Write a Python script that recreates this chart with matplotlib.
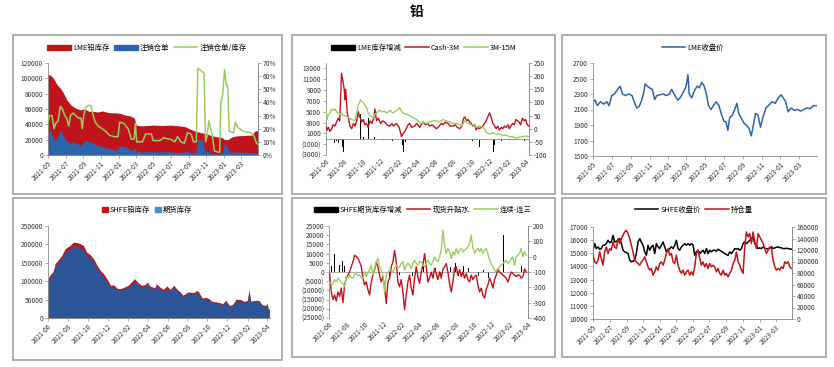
import pandas as pd
import matplotlib
matplotlib.use("Agg")
import matplotlib.pyplot as plt
import matplotlib.dates as mdates
from matplotlib.patches import Rectangle, Patch
from matplotlib.lines import Line2D

plt.rcParams['font.family'] = ['Noto Sans CJK SC', 'DejaVu Sans']
plt.rcParams['axes.unicode_minus'] = False

RED = '#c0141c'
BLUE = '#2e64ac'
DBLUE = '#2c5597'
GREEN = '#9acd5f'
GRAY = '#8c8c8c'
W, H = 834, 367

# ---------------------------------------------
# LME 铅库存 / 注销仓单 / 注销仓单占比
# ---------------------------------------------
tl_stock_dates = ['2021-05-01', '2021-05-10', '2021-05-20', '2021-06-01', '2021-06-13', '2021-06-25', '2021-07-05',
                  '2021-07-20', '2021-08-05', '2021-08-20', '2021-09-05', '2021-09-20', '2021-10-05', '2021-10-20',
                  '2021-11-05', '2021-11-20', '2021-12-05', '2021-12-20', '2022-01-05', '2022-01-25', '2022-02-10',
                  '2022-02-25', '2022-03-03', '2022-03-20', '2022-04-10', '2022-05-01', '2022-06-01', '2022-07-01',
                  '2022-08-01', '2022-08-20', '2022-09-05', '2022-09-25', '2022-10-15', '2022-11-01', '2022-11-20',
                  '2022-12-05', '2022-12-25', '2023-01-03', '2023-01-15', '2023-02-01', '2023-02-15', '2023-03-15',
                  '2023-04-10', '2023-04-18', '2023-04-30']
tl_stock = [105000, 104000, 100000, 92000, 87000, 80000, 72000, 65000, 61000, 59000, 60000, 57000, 57000, 56000,
            57500, 56000, 55000, 55000, 54500, 52000, 51000, 48000, 39000, 38000, 38500, 39000, 38500, 39000,
            38000, 37000, 34000, 31000, 29000, 28000, 25000, 24000, 23000, 20500, 20000, 24000, 25000, 25500,
            26000, 31000, 32000]
tl_cancel_dates = ['2021-05-01', '2021-05-08', '2021-05-14', '2021-05-24', '2021-06-01', '2021-06-10', '2021-06-16',
                   '2021-06-25', '2021-07-01', '2021-07-15', '2021-08-01', '2021-08-15', '2021-08-22', '2021-09-01',
                   '2021-09-12', '2021-09-25', '2021-10-08', '2021-10-25', '2021-11-10', '2021-12-01', '2021-12-25',
                   '2022-01-05', '2022-01-25', '2022-02-07', '2022-02-20', '2022-02-27', '2022-03-04', '2022-03-20',
                   '2022-04-20', '2022-05-20', '2022-06-20', '2022-07-20', '2022-08-15', '2022-08-28', '2022-09-10',
                   '2022-09-26', '2022-10-03', '2022-10-20', '2022-10-28', '2022-11-10', '2022-11-20', '2022-12-10',
                   '2022-12-28', '2023-01-03', '2023-01-10', '2023-01-20', '2023-02-15', '2023-03-15', '2023-04-15',
                   '2023-04-30']
tl_cancel = [25000, 32000, 28000, 18000, 22000, 30000, 32000, 24000, 20000, 16000, 17000, 14000, 12000, 17000,
             19000, 17000, 15000, 12000, 11000, 8000, 6000, 12000, 11000, 8000, 6000, 10000, 5000, 4000,
             4500, 4000, 4500, 3000, 4000, 5000, 3000, 4000, 20000, 19000, 4000, 5000, 2000, 1000,
             2000, 15000, 13000, 4000, 4000, 3500, 3000, 1500]
tl_ratio_dates = ['2021-05-01', '2021-05-06', '2021-05-15', '2021-05-22', '2021-05-28', '2021-06-05', '2021-06-13',
                  '2021-06-20', '2021-06-28', '2021-07-05', '2021-07-12', '2021-07-18', '2021-07-28', '2021-08-05',
                  '2021-08-15', '2021-08-24', '2021-08-28', '2021-09-02', '2021-09-08', '2021-09-18', '2021-09-28',
                  '2021-10-05', '2021-10-12', '2021-10-22', '2021-11-05', '2021-11-17', '2021-12-01', '2021-12-15',
                  '2021-12-30', '2022-01-05', '2022-01-20', '2022-02-03', '2022-02-14', '2022-02-24', '2022-02-28',
                  '2022-03-05', '2022-03-25', '2022-04-05', '2022-04-25', '2022-05-01', '2022-05-25', '2022-06-05',
                  '2022-06-30', '2022-07-15', '2022-07-25', '2022-08-05', '2022-08-18', '2022-08-28', '2022-09-10',
                  '2022-09-18', '2022-09-28', '2022-10-03', '2022-10-15', '2022-10-25', '2022-10-30', '2022-11-05',
                  '2022-11-10', '2022-11-17', '2022-11-22', '2022-11-30', '2022-12-18', '2022-12-22', '2022-12-28',
                  '2023-01-04', '2023-01-10', '2023-01-15', '2023-01-20', '2023-02-05', '2023-02-10', '2023-02-18',
                  '2023-03-10', '2023-04-05', '2023-04-15', '2023-04-25', '2023-04-30']
tl_ratio = [25, 30, 30, 20, 24, 26, 37, 35, 30, 28, 22, 30, 32, 30, 28, 28, 20, 30, 36, 38, 37, 30, 25, 22, 20,
            18, 15, 14, 14, 25, 24, 20, 12, 12, 24, 10, 10, 16, 16, 11, 11, 13, 12, 10, 14, 10, 9, 17, 16, 10,
            10, 66, 64, 62, 10, 15, 26, 20, 15, 3, 2, 40, 45, 65, 53, 53, 18, 17, 25, 21, 18, 17, 15, 9, 8]

# ---------------------------------------------
# LME 库存增减 / Cash-3M / 3M-15M
# ---------------------------------------------
tm_chg_dates = ['2021-06-01', '2021-06-04', '2021-06-08', '2021-06-11', '2021-06-15', '2021-06-18', '2021-06-22',
                '2021-06-25', '2021-06-29', '2021-07-02', '2021-07-06', '2021-07-13', '2021-07-20', '2021-07-27',
                '2021-07-29', '2021-08-03', '2021-08-10', '2021-08-24', '2021-09-07', '2021-09-25', '2021-10-05',
                '2021-10-22', '2021-11-10', '2021-11-25', '2021-12-10', '2021-12-28', '2022-01-10', '2022-01-25',
                '2022-02-01', '2022-02-08', '2022-02-12', '2022-02-16', '2022-02-22', '2022-03-10', '2022-04-10',
                '2022-05-10', '2022-06-10', '2022-07-10', '2022-08-10', '2022-09-10', '2022-10-05', '2022-10-20',
                '2022-10-28', '2022-11-02', '2022-12-05', '2022-12-14', '2022-12-18', '2023-01-10', '2023-02-05',
                '2023-03-05', '2023-03-23', '2023-03-28', '2023-04-05']
tm_chg = [-3000, -1500, -2500, -800, -1200, -3000, -500, -2000, -700, -1500, -400, -800, -300, -1500,
          -2500, -600, -300, 200, 300, 4500, 300, 3800, 300, -200, -300, -200, -400, -800,
          -1500, -2000, -1200, -2500, -600, -300, -200, -300, -200, -300, -200, -400, -500, -600,
          -1500, -1000, -300, -2500, -1200, -400, -300, -200, 3000, -500, -300]
tm_cash_dates = ['2021-06-01', '2021-06-05', '2021-06-09', '2021-06-14', '2021-06-20', '2021-06-25', '2021-07-01',
                 '2021-07-06', '2021-07-12', '2021-07-17', '2021-07-20', '2021-07-23', '2021-07-28', '2021-08-01',
                 '2021-08-03', '2021-08-06', '2021-08-11', '2021-08-16', '2021-08-20', '2021-08-26', '2021-09-01',
                 '2021-09-06', '2021-09-12', '2021-09-17', '2021-09-21', '2021-09-25', '2021-09-28', '2021-10-04',
                 '2021-10-09', '2021-10-15', '2021-10-20', '2021-10-26', '2021-11-02', '2021-11-08', '2021-11-12',
                 '2021-11-17', '2021-11-23', '2021-12-01', '2021-12-08', '2021-12-15', '2021-12-22', '2022-01-01',
                 '2022-01-08', '2022-01-13', '2022-01-18', '2022-01-23', '2022-02-01', '2022-02-09', '2022-02-14',
                 '2022-02-20', '2022-02-25', '2022-03-03', '2022-03-08', '2022-03-15', '2022-03-25', '2022-04-01',
                 '2022-04-11', '2022-04-16', '2022-04-22', '2022-05-01', '2022-05-08', '2022-05-14', '2022-05-22',
                 '2022-06-01', '2022-06-06', '2022-06-15', '2022-06-22', '2022-06-28', '2022-07-05', '2022-07-15',
                 '2022-07-22', '2022-08-01', '2022-08-08', '2022-08-15', '2022-08-23', '2022-08-30', '2022-09-05',
                 '2022-09-09', '2022-09-15', '2022-09-20', '2022-09-26', '2022-10-01', '2022-10-06', '2022-10-12',
                 '2022-10-17', '2022-10-22', '2022-10-28', '2022-11-03', '2022-11-08', '2022-11-14', '2022-11-19',
                 '2022-11-25', '2022-12-01', '2022-12-06', '2022-12-12', '2022-12-18', '2022-12-23', '2022-12-28',
                 '2023-01-03', '2023-01-09', '2023-01-14', '2023-01-20', '2023-01-25', '2023-02-01', '2023-02-05',
                 '2023-02-10', '2023-02-16', '2023-02-22', '2023-02-27', '2023-03-05', '2023-03-10', '2023-03-15',
                 '2023-03-21', '2023-03-27', '2023-04-01', '2023-04-04', '2023-04-10']
tm_cash = [10, -5, 5, -10, 0, 15, 10, 25, 40, 30, 120, 210, 180, 150, 110, 150, 60, 35, 10, 0, 20,
           10, 30, 65, 45, 40, 25, 35, 15, 20, 5, 30, 20, 40, 75, 30, 40, 20, 30, 25, 15, 10,
           20, 10, 15, 20, 5, -30, -20, -10, 0, 15, 20, 5, 10, 20, 5, 15, 25, 15, 20, 10, 15,
           5, 0, 10, 20, 15, 25, 20, 10, 10, 15, 5, 0, 10, 40, 45, 30, 35, 25, 20, 10, 15,
           -5, 5, 0, 5, 10, 20, 30, 45, 60, 45, 20, 10, 0, 10, -5, 5, 0, 10, 5, 15, 0,
           10, 20, 15, 35, 30, 25, 15, 40, 30, 35, 20, 10]
tm_spread_dates = ['2021-06-01', '2021-06-05', '2021-06-09', '2021-06-14', '2021-06-20', '2021-06-25', '2021-07-01',
                   '2021-07-06', '2021-07-12', '2021-07-17', '2021-07-23', '2021-07-28', '2021-08-03', '2021-08-11',
                   '2021-08-20', '2021-08-26', '2021-09-06', '2021-09-12', '2021-09-17', '2021-09-25', '2021-09-28',
                   '2021-10-04', '2021-10-09', '2021-10-15', '2021-10-20', '2021-10-26', '2021-11-06', '2021-11-12',
                   '2021-11-17', '2021-11-28', '2021-12-08', '2021-12-15', '2021-12-22', '2022-01-01', '2022-01-10',
                   '2022-01-18', '2022-01-25', '2022-02-03', '2022-02-09', '2022-02-14', '2022-02-25', '2022-03-08',
                   '2022-03-15', '2022-03-25', '2022-04-05', '2022-04-11', '2022-04-16', '2022-04-22', '2022-05-03',
                   '2022-05-14', '2022-05-25', '2022-06-06', '2022-06-15', '2022-06-28', '2022-07-10', '2022-07-21',
                   '2022-08-01', '2022-08-12', '2022-08-23', '2022-08-29', '2022-09-09', '2022-09-15', '2022-09-20',
                   '2022-10-01', '2022-10-06', '2022-10-17', '2022-10-28', '2022-11-08', '2022-11-14', '2022-11-19',
                   '2022-12-01', '2022-12-12', '2022-12-23', '2023-01-03', '2023-01-14', '2023-01-25', '2023-02-05',
                   '2023-02-16', '2023-02-27', '2023-03-10', '2023-03-21', '2023-04-01', '2023-04-10']
tm_spread = [70, 35, 55, 60, 75, 70, 75, 65, 60, 55, 60, 50, 50, 45, 40, 35, 30, 60, 90, 110, 105,
             100, 90, 80, 60, 50, 40, 55, 60, 70, 65, 65, 60, 70, 60, 65, 70, 80, 65, 60, 55, 50,
             45, 40, 30, 25, 20, 25, 20, 25, 30, 30, 25, 35, 30, 25, 20, 20, 15, 10, 30, 25, 20,
             15, 15, 5, 10, 5, 0, -15, -20, -15, -20, -20, -25, -25, -30, -30, -35, -32, -30, -28, -30]

# ---------------------------------------------
# LME 收盘价
# ---------------------------------------------
tr_dates = ['2021-05-01', '2021-05-08', '2021-05-15', '2021-05-25', '2021-06-05', '2021-06-15', '2021-06-22',
            '2021-07-01', '2021-07-10', '2021-07-20', '2021-07-28', '2021-08-05', '2021-08-15', '2021-08-25',
            '2021-09-05', '2021-09-12', '2021-09-20', '2021-09-28', '2021-10-05', '2021-10-12', '2021-10-18',
            '2021-10-25', '2021-11-01', '2021-11-10', '2021-11-18', '2021-11-25', '2021-12-05', '2021-12-15',
            '2021-12-25', '2022-01-05', '2022-01-12', '2022-01-20', '2022-02-01', '2022-02-10', '2022-02-20',
            '2022-02-28', '2022-03-06', '2022-03-10', '2022-03-18', '2022-03-28', '2022-04-05', '2022-04-12',
            '2022-04-20', '2022-04-28', '2022-05-05', '2022-05-12', '2022-05-20', '2022-05-28', '2022-06-06',
            '2022-06-15', '2022-06-22', '2022-07-01', '2022-07-08', '2022-07-14', '2022-07-20', '2022-07-28',
            '2022-08-05', '2022-08-12', '2022-08-18', '2022-08-25', '2022-09-05', '2022-09-12', '2022-09-20',
            '2022-09-28', '2022-10-05', '2022-10-12', '2022-10-20', '2022-10-28', '2022-11-05', '2022-11-15',
            '2022-11-25', '2022-12-05', '2022-12-15', '2022-12-25', '2023-01-03', '2023-01-10', '2023-01-18',
            '2023-01-26', '2023-02-05', '2023-02-15', '2023-02-25', '2023-03-08', '2023-03-18', '2023-03-28',
            '2023-04-08', '2023-04-18', '2023-04-30']
tr_price = [2200, 2220, 2150, 2200, 2170, 2200, 2150, 2280, 2300, 2360, 2400, 2300, 2280, 2300,
            2280, 2200, 2120, 2140, 2200, 2300, 2430, 2400, 2380, 2360, 2230, 2280, 2290, 2300,
            2280, 2300, 2360, 2300, 2220, 2260, 2330, 2400, 2550, 2300, 2250, 2350, 2400, 2380,
            2450, 2400, 2300, 2150, 2100, 2150, 2200, 2150, 2050, 1950, 1940, 1830, 2000, 2020,
            2100, 2180, 2050, 2000, 1920, 1900, 1860, 1760, 1900, 2050, 2030, 1870, 2000, 2120,
            2160, 2200, 2180, 2250, 2290, 2250, 2200, 2070, 2120, 2090, 2100, 2080, 2100, 2120,
            2110, 2150, 2150]

# ---------------------------------------------
# SHFE 铅库存 / 期货库存
# ---------------------------------------------
bl_dates = ['2021-06-01', '2021-06-08', '2021-06-16', '2021-06-23', '2021-07-02', '2021-07-13', '2021-07-23',
            '2021-07-31', '2021-08-07', '2021-08-17', '2021-08-28', '2021-09-07', '2021-09-17', '2021-09-27',
            '2021-10-08', '2021-10-18', '2021-10-29', '2021-11-08', '2021-11-18', '2021-12-01', '2021-12-09',
            '2021-12-19', '2021-12-30', '2022-01-09', '2022-01-20', '2022-02-01', '2022-02-11', '2022-02-20',
            '2022-03-03', '2022-03-13', '2022-03-23', '2022-04-01', '2022-04-08', '2022-04-23', '2022-04-28',
            '2022-05-09', '2022-05-19', '2022-05-30', '2022-06-09', '2022-06-20', '2022-06-30', '2022-07-10',
            '2022-07-18', '2022-07-25', '2022-08-04', '2022-08-20', '2022-08-30', '2022-09-04', '2022-09-15',
            '2022-09-25', '2022-10-05', '2022-10-15', '2022-10-26', '2022-11-06', '2022-11-16', '2022-11-26',
            '2022-12-07', '2022-12-17', '2022-12-27', '2023-01-11', '2023-01-21', '2023-01-31', '2023-02-05',
            '2023-02-10', '2023-02-25', '2023-03-07', '2023-03-17', '2023-03-27', '2023-04-01', '2023-04-04',
            '2023-04-08']
bl_total = [107000, 118000, 125000, 148000, 157000, 170000, 188000, 193000, 197000, 206000, 205000, 202000,
            197000, 179000, 172000, 161000, 143000, 129000, 120000, 102000, 89000, 90000, 80000, 80000,
            84000, 89000, 98000, 107000, 96000, 89000, 90000, 98000, 87000, 82000, 93000, 84000, 78000,
            87000, 78000, 89000, 78000, 71000, 62000, 66000, 71000, 69000, 75000, 71000, 54000, 56000,
            53000, 45000, 44000, 42000, 39000, 48000, 34000, 37000, 51000, 50000, 45000, 48000, 77000,
            46000, 48000, 48000, 36000, 34000, 39000, 27000, 24000]
bl_futures = [103000, 112000, 118000, 143000, 150000, 162000, 180000, 185000, 188000, 196000, 195000, 191000,
              186000, 170000, 164000, 153000, 135000, 122000, 112000, 95000, 83000, 84000, 76000, 77000,
              80000, 85000, 92000, 100000, 90000, 84000, 85000, 93000, 83000, 78000, 88000, 79000, 73000,
              82000, 74000, 84000, 74000, 67000, 58000, 63000, 67000, 65000, 71000, 67000, 50000, 52000,
              50000, 42000, 41000, 39000, 36000, 45000, 31000, 34000, 48000, 47000, 42000, 45000, 74000,
              43000, 45000, 45000, 33000, 31000, 36000, 24000, 21000]

# ---------------------------------------------
# SHFE 期货库存增减 / 现货升贴水 / 连续-连三
# ---------------------------------------------
bm_chg_dates = ['2021-06-09', '2021-06-14', '2021-06-20', '2021-06-25', '2021-07-01', '2021-07-06', '2021-07-12',
                '2021-07-17', '2021-07-23', '2021-07-28', '2021-08-08', '2021-08-31', '2021-09-17', '2021-10-04',
                '2021-10-27', '2021-11-13', '2021-11-30', '2021-12-22', '2022-01-02', '2022-01-24', '2022-02-15',
                '2022-03-09', '2022-03-31', '2022-04-16', '2022-05-04', '2022-05-26', '2022-06-12', '2022-06-23',
                '2022-06-28', '2022-07-15', '2022-08-01', '2022-08-12', '2022-08-29', '2022-09-15', '2022-09-26',
                '2022-10-07', '2022-10-18', '2022-11-04', '2022-11-21', '2022-12-13', '2022-12-30', '2023-01-10',
                '2023-01-15', '2023-01-26', '2023-02-12', '2023-03-01', '2023-03-12', '2023-03-17', '2023-03-23']
bm_chg = [3000, 4000, 10000, 2000, 5000, 4000, 3500, 6000, 3000, 2000, -1500, 1000, -1000, 1500,
          -1500, -5000, 1500, -4000, 2000, -1500, 1500, -2000, 1500, 3000, -1000, 2000, -2000, 3000,
          -5000, 2500, 5000, -2000, 3000, 2000, -1500, 2500, -2000, 1000, -3000, 1500, -2000, 20000,
          -18000, -3000, 2500, -2000, 3000, -4000, 2000]
bm_basis = [-110, -230, -280, -250, -290, -230, -260, -205, -300, -185, -140, -120, -100, -65, -35, 10, 0,
            -10, -35, -65, -140, -185, -165, -215, -250, -165, -120, -85, -35, -65, -120, -165, -130,
            -205, -305, -165, -140, -65, -35, 40, -35, -165, -195, -150, -230, -345, -250, -165, -120,
            -205, -250, -140, -65, -130, -175, -100, -55, 20, -65, -165, -140, -100, -140, -75, -110,
            -150, -100, -140, -85, -65, -45, -100, -175, -230, -165, -75, -65, -120, -85, -130, -100,
            -140, -110, -150, -165, -120, -150, -130, -120, -185, -230, -205, -250, -270, -215, -185,
            -140, -165, -205, -150, -120, -85, -100, -110, -120, -130, -140, -165, -130, -100, -110,
            -120, -130, -120, -120, -140, -130, -80, -100]
bm_spread = [-165, -185, -175, -150, -165, -140, -150, -167, -175, -195, -130, -140, -120, -137, -140,
             -115, -110, -124, -120, -137, -140, -98, -130, -102, -87, -55, -120, -76, -33, -12, -66,
             -87, -120, -228, -120, -102, -87, -94, -98, -76, -55, -72, -66, -44, -33, -87, -59, -44,
             -55, -76, -44, -23, -44, -55, -33, -33, -55, -66, -44, -23, -44, -55, -33, -1, -23, -33,
             -1, 42, 172, 75, 21, 53, 32, -12, 32, 10, 53, 21, 42, 53, 32, 42, 53, 64, 86, 140, 64,
             21, 42, 53, 32, 53, 21, 42, 53, 21, -23, -44, -66, -87, -98, -76, -66, -55, -44, -33,
             -23, -44, -33, -12, -1, -55, -1, 10, 21, 53, -1, 32, 10]

# ---------------------------------------------
# SHFE 收盘价 / 持仓量
# ---------------------------------------------
br_close = [15230, 15740, 15360, 15490, 15310, 15360, 15610, 15610, 15740, 15990, 15810, 15860, 16370, 15860,
            15910, 15990, 16120, 15740, 15230, 15110, 15060, 14980, 14480, 14350, 14400, 14480, 14980, 15860,
            16120, 15860, 15610, 15110, 14850, 15610, 15230, 15490, 15610, 14980, 15740, 15490, 15360, 15610,
            15860, 15490, 15110, 15230, 15360, 15490, 15360, 15610, 15990, 15360, 15230, 15490, 15610, 15740,
            15610, 15740, 15610, 15740, 15610, 14850, 15110, 15230, 14980, 15110, 15230, 14980, 15360, 14980,
            15230, 15110, 15230, 15230, 15160, 15310, 15230, 15160, 15060, 14980, 14900, 14850, 15110, 14980,
            15160, 15360, 15310, 15360, 15230, 15360, 15740, 15860, 15740, 15860, 15990, 16120, 16240, 15740,
            15610, 15360, 15410, 15360, 15490, 15360, 15360, 15310, 15410, 15490, 15360, 15410, 15460, 15490,
            15430, 15410, 15360, 15360, 15380, 15360, 15330, 15310]
br_oi = [111000, 99400, 96500, 102300, 116800, 105200, 93600, 116800, 125400, 113900, 122500, 119600,
         134100, 125400, 122500, 139900, 131200, 139900, 145700, 151400, 154300, 148500, 139900, 128300,
         116800, 102300, 99400, 96500, 93600, 99400, 102300, 108100, 99400, 90700, 85000, 87900, 76300,
         82100, 90700, 85000, 96500, 99400, 93600, 102300, 113900, 122500, 111000, 113900, 99400, 96500,
         111000, 93600, 85000, 79200, 85000, 76300, 82100, 85000, 76300, 82100, 76300, 90700, 113900,
         119600, 105200, 93600, 99400, 90700, 96500, 87900, 96500, 90700, 93600, 90700, 82100, 87900,
         79200, 76300, 85000, 76300, 79200, 73400, 79200, 85000, 96500, 102300, 116800, 99400, 93600,
         85000, 79200, 125400, 151400, 142800, 148500, 131200, 151400, 134100, 122500, 148500, 142800,
         137000, 131200, 122500, 113900, 119600, 125400, 122500, 102300, 90700, 85000, 87900, 85000,
         90700, 87900, 99400, 96500, 99400, 90700, 87900]

bm_dates = pd.date_range('2021-06-03', '2023-03-28', periods=len(bm_basis))
bm_spread_dates = pd.date_range('2021-06-03', '2023-03-28', periods=len(bm_spread))
br_dates = pd.date_range('2021-05-01', '2023-04-28', periods=len(br_close))
br_oi_dates = pd.date_range('2021-05-01', '2023-04-28', periods=len(br_oi))


def box(l, t, r, b):
    return [l / W, 1 - b / H, (r - l) / W, (b - t) / H]


def frame(fig, l, t, r, b):
    fig.add_artist(Rectangle((l / W, 1 - b / H), (r - l) / W, (b - t) / H, transform=fig.transFigure,
                             fill=False, ec='#a8a8a8', lw=1.3))


def style(ax, months, start, end, twin=None):
    ax.set_xlim(pd.Timestamp(start), pd.Timestamp(end))
    ax.xaxis.set_major_locator(mdates.MonthLocator(bymonth=months))
    ax.xaxis.set_major_formatter(mdates.DateFormatter('%Y-%m'))
    ax.spines['top'].set_visible(False)
    ax.spines['right'].set_visible(twin is not None)
    for s in ['left', 'bottom', 'right']:
        ax.spines[s].set_color(GRAY)
        ax.spines[s].set_linewidth(0.6)
    ax.tick_params(axis='both', labelsize=4.8, length=2, width=0.5, color=GRAY, pad=1.5, colors='#333333')
    for lab in ax.get_xticklabels():
        lab.set_rotation(45)
        lab.set_ha('right')
        lab.set_rotation_mode('anchor')
    if twin is not None:
        for s in ['top', 'left', 'bottom']:
            twin.spines[s].set_visible(False)
        twin.spines['right'].set_color(GRAY)
        twin.spines['right'].set_linewidth(0.6)
        twin.tick_params(axis='y', labelsize=4.8, length=2, width=0.5, color=GRAY, pad=1.5, colors='#333333')


def paren_ticks(ax, ticks):
    labels = [f'({abs(v)})' if v < 0 else f'{v}' for v in ticks]
    ax.set_yticks(ticks)
    ax.set_yticklabels(labels)
    for v, lab in zip(ticks, ax.get_yticklabels()):
        lab.set_color(RED if v < 0 else '#333333')


odd = [1, 3, 5, 7, 9, 11]
even = [2, 4, 6, 8, 10, 12]
leg_kw = dict(frameon=False, fontsize=5.3, handletextpad=0.3, columnspacing=0.6, borderpad=0.1)

fig = plt.figure(figsize=(W / 100, H / 100), dpi=100)
fig.text(0.5, 1 - 12 / H, '铅', ha='center', va='center', fontsize=10, fontweight='bold')

for l, t, r, b in [(13, 35, 282, 194), (292, 35, 555, 194), (562, 35, 826, 194),
                   (13, 198, 282, 360), (292, 198, 555, 357), (562, 198, 826, 357)]:
    frame(fig, l, t, r, b)

# top left
ax = fig.add_axes(box(48, 63, 258, 155))
ax2 = ax.twinx()
ax.fill_between(pd.to_datetime(tl_stock_dates), tl_stock, color=RED, lw=0)
ax.fill_between(pd.to_datetime(tl_cancel_dates), tl_cancel, color=BLUE, lw=0)
ax2.plot(pd.to_datetime(tl_ratio_dates), tl_ratio, color=GREEN, lw=1.1)
ax.set_ylim(0, 120000)
ax.set_yticks(range(0, 120001, 20000))
ax2.set_ylim(0, 70)
ax2.set_yticks(range(0, 71, 10))
ax2.set_yticklabels([f'{v}%' for v in range(0, 71, 10)])
style(ax, odd, '2021-05-01', '2023-04-30', ax2)
fig.legend([Patch(color=RED), Patch(color=BLUE), Line2D([], [], color=GREEN, lw=1.1)],
           ['LME铅库存', '注销仓单', '注销仓单/库存'], loc='center', ncol=3,
           bbox_to_anchor=(147 / W, 1 - 48 / H), handlelength=3.2, **leg_kw)

# top middle
ax = fig.add_axes(box(326, 63, 529, 155))
ax2 = ax.twinx()
ax.bar(pd.to_datetime(tm_chg_dates), tm_chg, width=1.5, color='black')
ax.axhline(0, color=GRAY, lw=0.6)
ax2.plot(pd.to_datetime(tm_cash_dates), tm_cash, color=RED, lw=1.0)
ax2.plot(pd.to_datetime(tm_spread_dates), tm_spread, color=GREEN, lw=1.0)
ax.set_ylim(-3000, 14000)
paren_ticks(ax, list(range(-3000, 13001, 2000)))
ax2.set_ylim(-100, 250)
ax2.set_yticks(range(-100, 251, 50))
style(ax, even, '2021-06-01', '2023-04-12', ax2)
ax.spines['bottom'].set_visible(False)
ax.tick_params(axis='x', length=0)
fig.legend([Patch(color='black'), Line2D([], [], color=RED, lw=1.1), Line2D([], [], color=GREEN, lw=1.1)],
           ['LME库存增减', 'Cash-3M', '3M-15M'], loc='center', ncol=3,
           bbox_to_anchor=(424 / W, 1 - 48 / H), handlelength=3.2, **leg_kw)

# top right
ax = fig.add_axes(box(593, 63, 817, 156))
ax.plot(pd.to_datetime(tr_dates), tr_price, color=BLUE, lw=1.1)
ax.set_ylim(1500, 2700)
ax.set_yticks(range(1500, 2701, 200))
style(ax, odd, '2021-05-01', '2023-04-30')
fig.legend([Line2D([], [], color=BLUE, lw=1.1)], ['LME收盘价'], loc='center',
           bbox_to_anchor=(693 / W, 1 - 48 / H), handlelength=3.2, **leg_kw)

# bottom left
ax = fig.add_axes(box(48, 226, 270, 318))
ax.fill_between(pd.to_datetime(bl_dates), bl_total, color=RED, lw=0)
ax.fill_between(pd.to_datetime(bl_dates), bl_futures, color=DBLUE, lw=0)
ax.set_ylim(0, 250000)
ax.set_yticks(range(0, 250001, 50000))
style(ax, even, '2021-06-01', '2023-04-10')
fig.legend([Patch(color=RED), Patch(color='#3f8fd6')], ['SHFE铅库存', '期货库存'], loc='center', ncol=2,
           bbox_to_anchor=(147 / W, 1 - 210 / H), handlelength=0.8, handleheight=0.8, **leg_kw)

# bottom middle
ax = fig.add_axes(box(329, 226, 528, 318))
ax2 = ax.twinx()
ax.bar(pd.to_datetime(bm_chg_dates), bm_chg, width=1.5, color='black')
ax.axhline(0, color=GRAY, lw=0.5)
ax2.plot(bm_dates, bm_basis, color=RED, lw=1.0)
ax2.plot(bm_spread_dates, bm_spread, color=GREEN, lw=1.0)
ax.set_ylim(-25000, 25000)
paren_ticks(ax, list(range(-25000, 25001, 5000)))
ax2.set_ylim(-400, 200)
ax2.set_yticks(range(-400, 201, 100))
style(ax, even, '2021-06-01', '2023-04-03', ax2)
ax.spines['bottom'].set_visible(False)
ax.tick_params(axis='x', length=0)
fig.legend([Patch(color='black'), Line2D([], [], color=RED, lw=1.1), Line2D([], [], color=GREEN, lw=1.1)],
           ['SHFE期货库存增减', '现货升贴水', '连续-连三'], loc='center', ncol=3,
           bbox_to_anchor=(423 / W, 1 - 210 / H), handlelength=3.2, **leg_kw)

# bottom right
ax = fig.add_axes(box(593, 227, 792, 319))
ax2 = ax.twinx()
ax.plot(br_dates, br_close, color='black', lw=1.1)
ax2.plot(br_oi_dates, br_oi, color=RED, lw=1.1)
ax.set_ylim(10000, 17000)
ax.set_yticks(range(10000, 17001, 1000))
ax2.set_ylim(0, 160000)
ax2.set_yticks(range(0, 160001, 20000))
style(ax, odd, '2021-05-01', '2023-04-30', ax2)
fig.legend([Line2D([], [], color='black', lw=1.1), Line2D([], [], color=RED, lw=1.1)],
           ['SHFE收盘价', '持仓量'], loc='center', ncol=2,
           bbox_to_anchor=(694 / W, 1 - 210 / H), handlelength=3.2, **leg_kw)

fig.savefig('out.png', dpi=100)
